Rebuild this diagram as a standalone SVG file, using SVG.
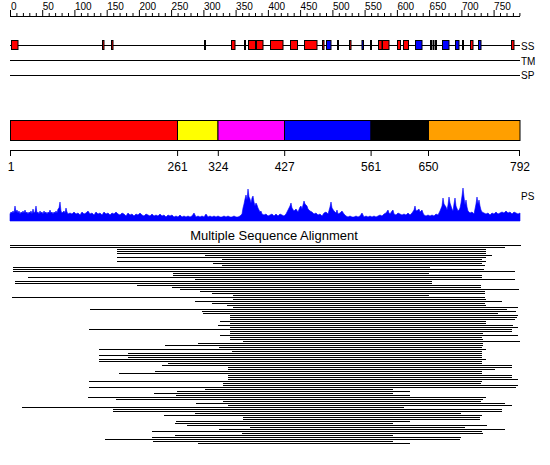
<svg xmlns="http://www.w3.org/2000/svg" width="550" height="465" viewBox="0 0 550 465">
<style>
text{font-family:"Liberation Sans","DejaVu Sans",sans-serif;fill:#000}
.rl{font-size:10px}
.lab{font-size:10px}
.ax{font-size:12px;text-anchor:middle}
.ln{stroke:#000;stroke-width:1;fill:none}
.h{fill:#f00;stroke:#000;stroke-width:1}
.e{fill:#00f;stroke:#000;stroke-width:1}
.t{stroke:#000;stroke-width:2}
</style>
<rect width="550" height="465" fill="#fff"/>
<g id="ruler">
<path class="ln" d="M10,16.5H520"/>
<path class="ln" d="M10.5,10V16M42.7,10V16M74.9,10V16M107.2,10V16M139.4,10V16M171.6,10V16M203.9,10V16M236.1,10V16M268.4,10V16M300.6,10V16M332.9,10V16M365.1,10V16M397.4,10V16M429.6,10V16M461.9,10V16M494.1,10V16"/>
<path class="ln" d="M16.9,13V16M23.4,13V16M29.8,13V16M36.3,13V16M49.2,13V16M55.6,13V16M62.1,13V16M68.5,13V16M81.4,13V16M87.9,13V16M94.3,13V16M100.8,13V16M113.7,13V16M120.1,13V16M126.6,13V16M133,13V16M145.9,13V16M152.4,13V16M158.8,13V16M165.3,13V16M178.1,13V16M184.6,13V16M191,13V16M197.5,13V16M210.4,13V16M216.8,13V16M223.3,13V16M229.7,13V16M242.6,13V16M249.1,13V16M255.5,13V16M262,13V16M274.9,13V16M281.3,13V16M287.8,13V16M294.2,13V16M307.1,13V16M313.6,13V16M320,13V16M326.5,13V16M339.3,13V16M345.8,13V16M352.2,13V16M358.7,13V16M371.6,13V16M378,13V16M384.5,13V16M390.9,13V16M403.8,13V16M410.3,13V16M416.7,13V16M423.2,13V16M436.1,13V16M442.5,13V16M449,13V16M455.4,13V16M468.3,13V16M474.8,13V16M481.2,13V16M487.7,13V16M500.5,13V16M507,13V16M513.4,13V16M519.9,13V16"/>
<text class="rl" x="11" y="10">0</text>
<text class="rl" x="42.7" y="10">50</text>
<text class="rl" x="74.9" y="10">100</text>
<text class="rl" x="107.2" y="10">150</text>
<text class="rl" x="139.4" y="10">200</text>
<text class="rl" x="171.6" y="10">250</text>
<text class="rl" x="203.9" y="10">300</text>
<text class="rl" x="236.1" y="10">350</text>
<text class="rl" x="268.4" y="10">400</text>
<text class="rl" x="300.6" y="10">450</text>
<text class="rl" x="332.9" y="10">500</text>
<text class="rl" x="365.1" y="10">550</text>
<text class="rl" x="397.4" y="10">600</text>
<text class="rl" x="429.6" y="10">650</text>
<text class="rl" x="461.9" y="10">700</text>
<text class="rl" x="494.1" y="10">750</text>
</g>
<g id="ss">
<path class="ln" d="M10,45.5H520"/>
<rect class="h" x="11.5" y="40.5" width="6.5" height="9"/>
<rect class="h" x="102.5" y="40.5" width="1.5" height="9"/>
<rect class="h" x="111.5" y="40.5" width="1.5" height="9"/>
<rect class="h" x="231.5" y="40.5" width="3.5" height="9"/>
<rect class="h" x="248.5" y="40.5" width="7" height="9"/>
<rect class="h" x="256.5" y="40.5" width="6.5" height="9"/>
<rect class="h" x="270.5" y="40.5" width="12.5" height="9"/>
<rect class="h" x="290.5" y="40.5" width="7" height="9"/>
<rect class="h" x="304.5" y="40.5" width="12.5" height="9"/>
<rect class="h" x="322.5" y="40.5" width="1.5" height="9"/>
<rect class="h" x="349.5" y="40.5" width="1.5" height="9"/>
<rect class="h" x="378.5" y="40.5" width="3.5" height="9"/>
<rect class="h" x="382.5" y="40.5" width="6.5" height="9"/>
<rect class="h" x="397.5" y="40.5" width="3" height="9"/>
<rect class="h" x="403.5" y="40.5" width="5" height="9"/>
<rect class="h" x="470.5" y="40.5" width="2.5" height="9"/>
<rect class="h" x="511.5" y="40.5" width="2.5" height="9"/>
<rect class="e" x="326.5" y="40.5" width="4.5" height="9"/>
<rect class="e" x="362" y="40.5" width="1.5" height="9"/>
<rect class="e" x="415.5" y="40.5" width="6.5" height="9"/>
<rect class="e" x="442.5" y="40.5" width="6.5" height="9"/>
<rect class="e" x="455.5" y="40.5" width="3.5" height="9"/>
<rect class="e" x="478.5" y="40.5" width="2.5" height="9"/>
<path class="t" d="M205,40V50M245,40V50M338,40V50M371,40V50M431,40V50M433.5,40V50M436,40V50M463,40V50"/>
<text class="lab" x="521" y="49.5">SS</text>
</g>
<g id="tm">
<path class="ln" d="M10,60.5H520"/>
<text class="lab" x="521" y="64.5">TM</text>
</g>
<g id="sp">
<path class="ln" d="M10,75.5H520"/>
<text class="lab" x="521" y="79">SP</text>
</g>
<g id="domains" stroke="#000" stroke-width="1">
<rect x="10.5" y="120.5" width="167" height="20" fill="#f00"/>
<rect x="177.5" y="120.5" width="40.5" height="20" fill="#ff0"/>
<rect x="218" y="120.5" width="66.5" height="20" fill="#f0f"/>
<rect x="284.5" y="120.5" width="86.5" height="20" fill="#00f"/>
<rect x="371" y="120.5" width="57.5" height="20" fill="#000"/>
<rect x="428.5" y="120.5" width="91.5" height="20" fill="#ff9f00"/>
</g>
<g id="axis">
<path class="ln" d="M10,150.5H520M10.5,150V156M177.6,150V156M218.3,150V156M284.7,150V156M371.1,150V156M428.5,150V156M519.5,150V156"/>
<text class="ax" x="11" y="171">1</text>
<text class="ax" x="177.6" y="171">261</text>
<text class="ax" x="218.3" y="171">324</text>
<text class="ax" x="284.7" y="171">427</text>
<text class="ax" x="371.1" y="171">561</text>
<text class="ax" x="428.5" y="171">650</text>
<text class="ax" x="520" y="171">792</text>
</g>
<g id="ps">
<path fill="#00f" stroke="#00f" stroke-width="0.6" stroke-linejoin="bevel" d="M10,221L10,214 11,212 12,213 13,211 14,213 15,206 16,212 17,210 18,213 19,211 20,214 21,212 22,213 23,211 24,213 25,210 26,213 27,212 28,214 29,212 30,213 31,211 32,214 33,209 34,213 35,212 36,206 37,213 38,212 39,214 40,211 41,213 42,212 43,214 44,211 45,213 46,212 47,214 48,212 49,213 50,210 51,213 52,212 53,214 54,212 55,213 56,211 57,213 58,209 59,208 60,202 61,211 62,213 63,212 64,211 65,213 66,208 67,212 68,214 70,213 72,214 74,212 76,214 78,213 80,215 82,212 84,214 86,213 88,211 90,214 92,213 94,215 96,212 98,214 100,213 102,215 104,212 106,214 108,213 110,215 112,213 114,214 116,212 118,214 120,215 122,213 124,214 126,216 128,213 130,215 132,214 134,216 136,214 138,215 140,213 142,215 144,216 146,214 148,215 150,216 152,214 154,216 156,215 158,216 160,214 162,216 164,215 166,217 168,215 170,216 172,215 174,217 176,216 178,217 180,215 182,217 184,216 186,217 188,216 190,217 192,216 194,213 196,217 198,216 200,217 202,216 204,217 206,214 208,217 210,216 212,217 214,216 216,217 218,216 220,217 222,217 224,216 226,217 228,216 230,217 232,217 234,216 236,217 238,217 240,216 242,214 243,208 244,204 245,199 246,195 247,200 248,189 249,197 250,199 251,203 252,198 253,196 254,202 255,206 256,203 257,205 258,208 259,210 260,212 261,211 262,214 264,215 266,214 268,216 270,215 272,214 274,216 276,214 278,216 280,214 282,215 284,216 286,214 288,210 290,206 291,203 292,208 294,211 296,209 298,212 300,207 301,206 302,209 304,201 305,204 306,205 307,206 308,209 310,211 312,212 314,214 316,213 318,215 320,214 322,216 324,213 326,212 328,214 330,207 331,202 332,208 334,211 336,213 337,210 338,214 340,213 342,211 344,214 346,216 348,217 350,216 352,217 354,217 356,216 358,217 360,216 362,213 363,215 364,217 366,216 368,217 370,216 372,217 374,216 376,217 378,216 380,215 382,216 384,214 386,213 388,210 389,213 390,214 392,211 393,210 394,214 396,215 398,213 400,214 402,215 404,214 406,215 408,213 410,215 412,213 414,210 415,206 416,211 418,210 419,209 420,212 422,210 423,213 424,215 426,216 428,215 430,216 432,215 434,216 436,214 438,215 440,211 442,206 443,198 444,204 446,207 447,210 448,205 449,197 450,203 452,209 453,211 454,204 455,198 456,206 458,211 459,210 460,208 461,203 462,196 463,188 464,197 465,205 466,200 467,207 468,211 470,213 472,212 474,214 476,204 477,197 478,204 479,200 480,206 481,210 482,212 484,213 486,214 488,213 490,215 492,213 494,214 496,212 498,214 500,213 502,212 504,213 506,211 508,213 510,212 512,214 514,212 516,213 518,214 520,213 520,221Z"/>
<text class="lab" x="521" y="200">PS</text>
</g>
<g id="msa">
<text x="274" y="240" font-size="13" text-anchor="middle">Multiple Sequence Alignment</text>
<path class="ln" d="M10,245.5H521M10,247.5H505M117,249.5H486M117,251.5H486M117,253.5H486M205,255.5H492M117,257.5H486M222,259.5H482M117,261.5H486M213,263.5H482M222,265.5H485M13,267.5H430M13,269.5H484M13,271.5H515M173,273.5H429M173,275.5H482M28,277.5H482M195,279.5H515M15,281.5H432M15,283.5H432M137,285.5H481M172,287.5H481M180,289.5H519M200,291.5H485M212,293.5H485M233,295.5H429M12,297.5H485M233,299.5H486M195,301.5H502M212,303.5H485M227,305.5H486M233,307.5H518M90,309.5H507M202,311.5H516M203,313.5H498M230,315.5H518M230,317.5H517M230,319.5H515M220,321.5H486M230,323.5H486M218,325.5H513M230,327.5H518M89,329.5H512M230,331.5H512M230,333.5H483M220,335.5H518M230,337.5H482M230,339.5H483M243,341.5H520M198,343.5H483M165,345.5H483M219,347.5H482M99,349.5H486M232,351.5H482M128,353.5H482M99,355.5H482M128,357.5H482M99,359.5H486M99,361.5H482M168,363.5H482M162,365.5H512M228,367.5H512M228,369.5H495M155,371.5H482M119,373.5H482M228,375.5H512M228,377.5H512M228,379.5H518M89,381.5H482M223,383.5H481M223,385.5H518M89,387.5H516M205,389.5H393M177,391.5H410M154,393.5H393M176,395.5H410M88,397.5H486M116,399.5H483M223,401.5H481M196,403.5H505M228,405.5H512M22,407.5H404M113,409.5H502M113,411.5H502M195,413.5H461M164,415.5H482M243,417.5H480M243,419.5H480M176,421.5H410M175,423.5H393M187,425.5H487M250,427.5H465M219,429.5H505M152,431.5H482M242,433.5H483M175,435.5H393M152,437.5H461M105,439.5H460M153,441.5H393M198,443.5H410"/>
</g>
</svg>
